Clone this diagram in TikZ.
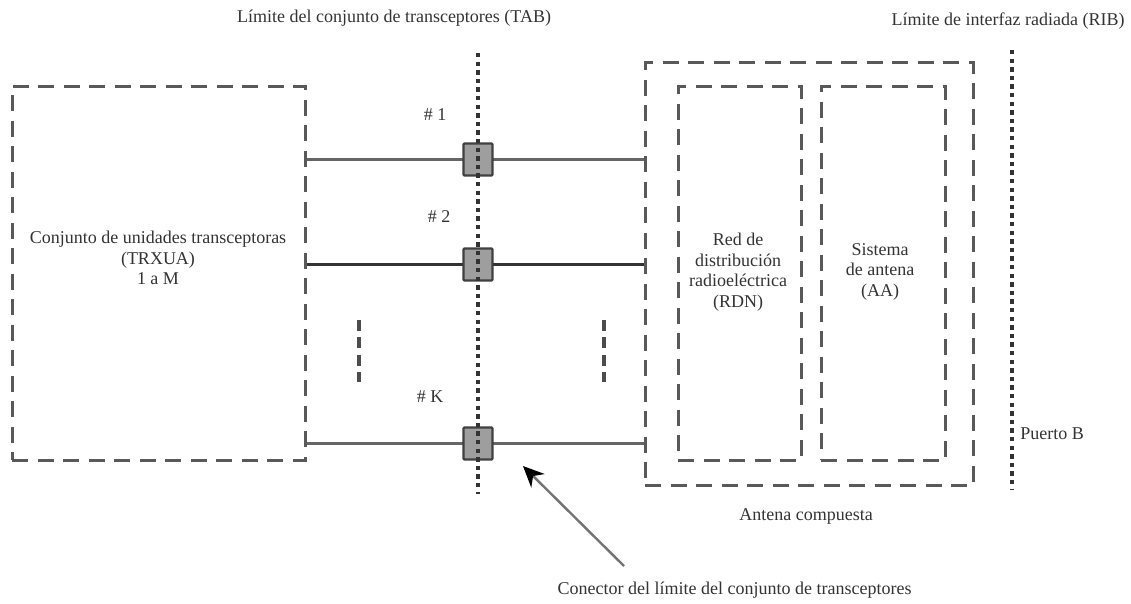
\documentclass[tikz,border=0pt]{standalone}
\usepackage{fontspec}
\setmainfont{Liberation Serif}
\usetikzlibrary{arrows.meta}
\tikzset{
 dbox/.style={draw=black!65,line width=3pt,dash pattern=on 16pt off 9.5pt,inner sep=0pt,fill=none},
 lbl/.style={font=\fontsize{18}{20.5}\selectfont,align=center,inner sep=0pt,text=black!80},
 port/.style={draw=black!75,fill=black!38,line width=2.2pt,minimum width=29pt,minimum height=32pt,inner sep=0pt,rounded corners=1pt},
 wire/.style={draw=black!60,line width=3pt},
 dotl/.style={draw=black!80,line width=3.6pt,dash pattern=on 4.4pt off 4.2pt},
 tickl/.style={draw=black!70,line width=3.8pt,dash pattern=on 11pt off 6.3pt},
 pointer/.style={draw=black!55,line width=2.4pt,-{Stealth[length=21pt,width=19pt,black]}}
}
\begin{document}
\begin{tikzpicture}[x=1pt,y=-1pt]
\useasboundingbox (0,0) rectangle (1131,603);
\node[dbox,minimum width=293pt,minimum height=374pt] (trx) at (158.5,273) {};
\node[dbox,minimum width=328pt,minimum height=423pt] (ant) at (809,273.5) {};
\node[dbox,minimum width=123pt,minimum height=374pt] (rdn) at (739.5,273) {};
\node[dbox,minimum width=124pt,minimum height=374pt] (aa) at (883,273) {};
\coordinate (pa) at (478,159.5);
\coordinate (pb) at (478,264.5);
\coordinate (pc) at (478,443.5);
\draw[wire] (trx.east |- pa) -- (ant.west |- pa);
\draw[wire,draw=black!80,line width=2.2pt] (trx.east |- pb) -- (ant.west |- pb);
\draw[wire] (trx.east |- pc) -- (ant.west |- pc);
\node[port] (p1) at (pa) {};
\node[port] (p2) at (pb) {};
\node[port] (p3) at (pc) {};
\coordinate (tabt) at (478,53);
\coordinate (tabb) at (478,494);
\draw[dotl] (tabt) -- (tabb);
\coordinate (ribt) at (1012,50);
\coordinate (ribb) at (1012,490);
\draw[dotl] (ribt) -- (ribb);
\coordinate (ta) at (359,320);
\coordinate (tb) at (359,382);
\coordinate (tc) at (604,320);
\coordinate (td) at (604,382);
\draw[tickl] (ta) -- (tb);
\draw[tickl] (tc) -- (td);
\node[lbl] (tabl) at (394,18) {Límite del conjunto de transceptores (TAB)};
\node[lbl] (ribl) at (1008,21) {Límite de interfaz radiada (RIB)};
\node[lbl] (n1) at (435,115) {\# 1};
\node[lbl] (n2) at (439,217) {\# 2};
\node[lbl] (nk) at (430,397) {\# K};
\node[lbl] (trxl) at (158,258) {Conjunto de unidades transceptoras\\(TRXUA)\\1 a M};
\node[lbl] (rdnl) at (738,272) {Red de\\distribución\\radioeléctrica\\(RDN)};
\node[lbl] (aal) at (880,271.5) {Sistema\\de antena\\(AA)};
\node[lbl] (pbl) at (1052,434) {Puerto B};
\node[lbl] (acl) at (806,516) {Antena compuesta};
\node[lbl] (conl) at (734.5,590) {Conector del límite del conjunto de transceptores};
\coordinate (arrs) at (624,566);
\coordinate (arre) at (523,466);
\draw[pointer] (arrs) -- (arre);
\end{tikzpicture}
\end{document}
